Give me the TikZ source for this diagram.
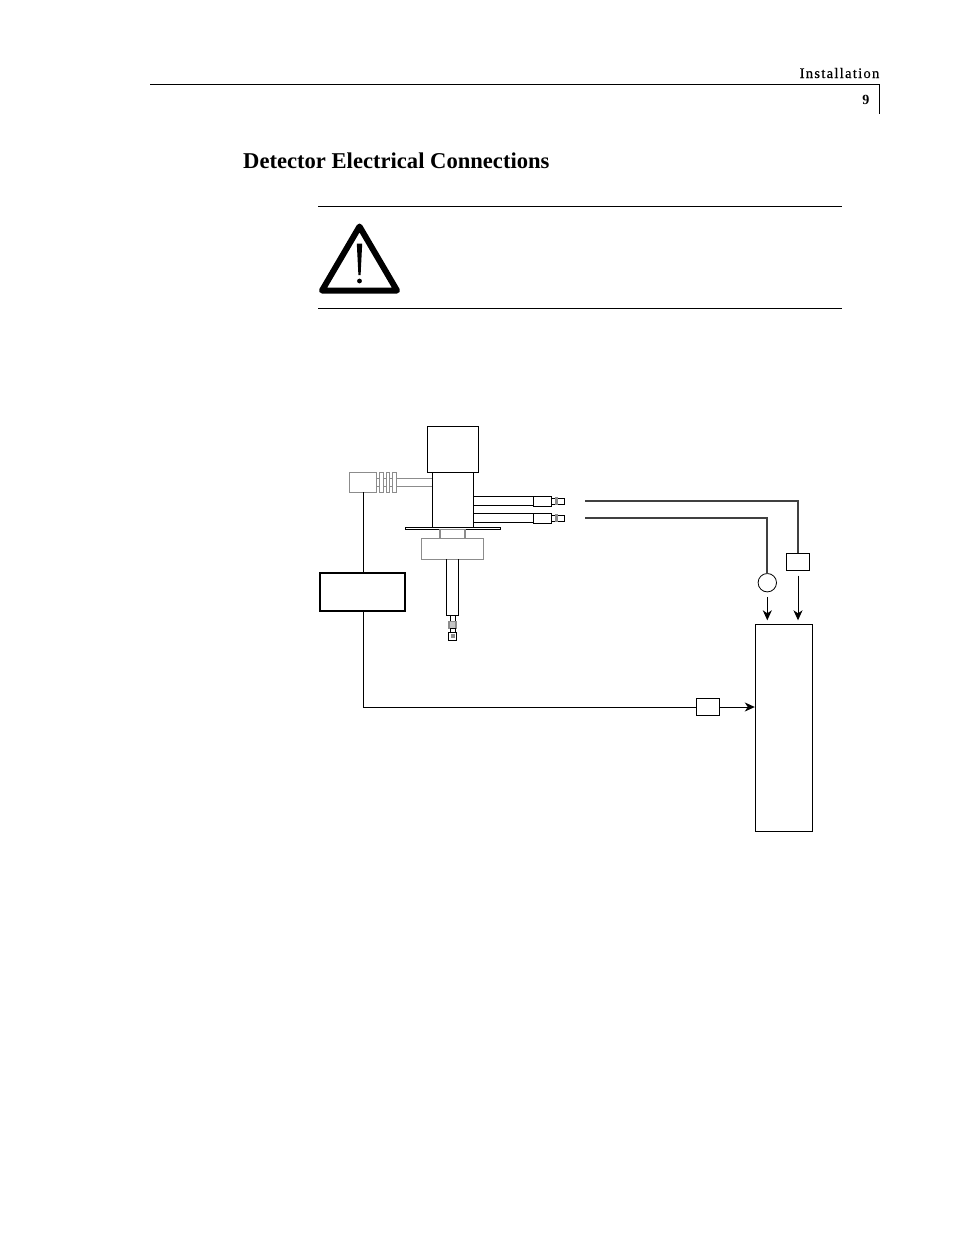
\documentclass[tikz,border=0pt]{standalone}
\usepackage{fontspec}
\setmainfont{Liberation Serif}
\newfontfamily\headfont[LetterSpace=9,FakeBold=0.4]{Liberation Serif}
\usepackage{xcolor}
\usetikzlibrary{arrows.meta, positioning, calc}
\definecolor{partgray}{HTML}{8C8C8C}
\tikzset{
  % Detector parts
  part/.style={rectangle, draw=black, line width=0.9pt, fill=white, inner sep=0pt, outer sep=0pt, minimum width=#1},
  part/.default={20pt},
  graypart/.style={rectangle, draw=partgray, line width=1.2pt, fill=white, inner sep=0pt, outer sep=0pt, minimum width=#1},
  graypart/.default={20pt},
  % Wiring diagram
  unit/.style={rectangle, draw=black, line width=0.9pt, fill=white, inner sep=0pt, outer sep=0pt},
  wire/.style={line width=0.9pt},
  cable/.style={line width=2pt, draw=black!75},
  arrow/.style={-{Stealth[length=10pt, width=9pt, inset=3pt]}, line width=0.9pt},
  pagerule/.style={line width=1pt},
}
\begin{document}
\begin{tikzpicture}[x=1pt, y=-1pt]
    \useasboundingbox (0,0) rectangle (954,1235);

    % Page header
    \draw[pagerule] (150,84.5) -- (879.5,84.5) -- (879.5,114);
    \node[anchor=base east, inner sep=0pt, font=\headfont\fontsize{14.5}{14.5}\selectfont] (running) at (879.5,78) {Installation};
    \node[anchor=base east, inner sep=0pt, font=\bfseries\fontsize{14}{14}\selectfont] (pageno) at (869.5,104) {9};
    \node[anchor=base west, inner sep=0pt, font=\bfseries\fontsize{22.6}{22.6}\selectfont] (title) at (243,168) {Detector Electrical Connections};

    % Warning
    \draw[pagerule] (318,206.5) -- (842,206.5);
    \draw[pagerule] (318,308) -- (842,308);
    \draw[line width=6pt, line join=round] (359.5,226.5) -- (397,290.5) -- (322,290.5) -- cycle;
    \fill (356.8,243.5) -- (362.2,243.5) -- (360.6,275) -- (358.4,275) -- cycle;
    \fill (359.5,281) circle (2.4);

    % Detector body
    \node[part=51pt, minimum height=46pt, anchor=north] (head) at (452.5,426) {};
    \node[part=41pt, minimum height=55pt, below=0pt of head] (body) {};
    \node[part=95pt, minimum height=2.6pt, below=0pt of body] (flange) {};
    \node[graypart=25pt, minimum height=9pt, below=0pt of flange] (neck) {};
    \node[graypart=62pt, minimum height=20.5pt, below=0pt of neck] (disc) {};
    \node[graypart=11.5pt, minimum height=56pt, below=0pt of disc] (stem) {};
    \draw[wire] (stem.north west) -- (stem.south west) -- (stem.south east) -- (stem.north east);
    \node[part=5pt, minimum height=6pt, below=0pt of stem] (tipneck) {};
    \node[graypart=7pt, minimum height=7.4pt, below=0pt of tipneck, fill=partgray!50] (tipring) {};
    \node[part=5pt, minimum height=3.6pt, below=0pt of tipring] (tipneckb) {};
    \node[part=8.5pt, minimum height=8pt, below=0pt of tipneckb] (tipend) {};
    \node[rectangle, fill=partgray, inner sep=0pt, minimum size=4pt] (tipmark) at (tipend) {};

    % Outlets
    \node[part=60pt, minimum height=9.4pt, anchor=west] (outleta) at (473,501) {};
    \node[part=18.5pt, minimum height=10.4pt, anchor=west] (pluga) at (533.3,501.5) {};
    \node[part=13pt, minimum height=5.6pt, right=0pt of pluga] (tipa) {};
    \node[rectangle, fill=partgray, inner sep=0pt, minimum width=3pt, minimum height=7.5pt] (marka) at (556,500.8) {};
    \node[part=60pt, minimum height=9.4pt, anchor=west] (outletb) at (473,518) {};
    \node[part=18.5pt, minimum height=10.4pt, anchor=west] (plugb) at (533.3,518.5) {};
    \node[part=13pt, minimum height=5.6pt, right=0pt of plugb] (tipb) {};
    \node[rectangle, fill=partgray, inner sep=0pt, minimum width=3pt, minimum height=7.5pt] (markb) at (556,517.8) {};

    % Side connector
    \node[graypart=27.4pt, minimum height=20pt, anchor=north] (socket) at (363,472.3) {};
    \draw[draw=partgray, line width=1.2pt] ($(socket.east)+(0,-3.5)$) -- ($(body.west |- socket.east)+(0,-3.5)$);
    \draw[draw=partgray, line width=1.2pt] ($(socket.east)+(0,3.9)$) -- ($(body.west |- socket.east)+(0,3.9)$);
    \node[graypart=4pt, minimum height=20pt] (fina) at (381.3,482.3) {};
    \node[graypart=3.4pt, minimum height=20pt] (finb) at (388,482.3) {};
    \node[graypart=4.4pt, minimum height=20pt] (finc) at (394.5,482.3) {};

    % Right side units
    \node[unit, minimum width=85pt, minimum height=38pt, line width=2pt, anchor=north] (control) at (362.5,573) {};
    \node[unit, minimum width=57.4pt, minimum height=206.7pt, anchor=north west] (recorder) at (755.3,624.3) {};
    \node[unit, minimum width=23.4pt, minimum height=17pt] (fuse) at (708,707) {};
    \node[unit, minimum width=23.4pt, minimum height=17.4pt] (relay) at (798,562) {};
    \node[circle, draw=black, line width=0.8pt, fill=white, inner sep=0pt, outer sep=0pt, minimum size=18.4pt] (lamp) at (767.3,582.7) {};
    \coordinate (cablea) at (585,500.7);
    \coordinate (cableb) at (585,518.3);

    % Wires
    \draw[wire] (socket.south) -- (socket.south |- control.north);
    \draw[wire] (socket.south |- control.south) |- (fuse.west);
    \draw[arrow, shorten >=0.5pt] (fuse.east) -- (fuse.east -| recorder.west);
    \draw[cable] (cablea) -| (relay.north);
    \draw[cable] (cableb) -| (lamp.north);
    \draw[arrow, shorten <=5pt, shorten >=4pt] (lamp.south) -- (lamp.south |- recorder.north);
    \draw[arrow, shorten <=5pt, shorten >=4pt] (relay.south) -- (relay.south |- recorder.north);
  \end{tikzpicture}
\end{document}
